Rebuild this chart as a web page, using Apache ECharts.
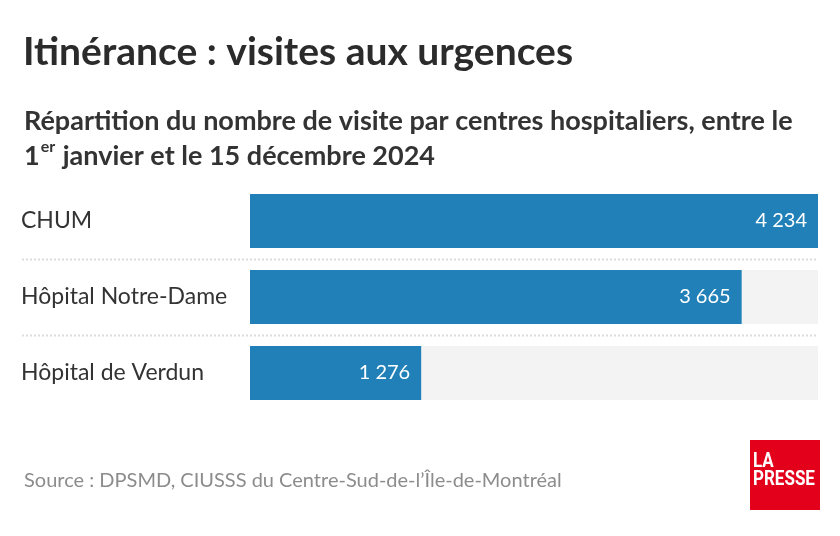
<!DOCTYPE html>
<html>
<head>
<meta charset="utf-8">
<script src="https://cdn.jsdelivr.net/npm/echarts@6/dist/echarts.min.js"></script>
<style>
html,body{margin:0;padding:0;background:#fff;}
#chart{width:840px;height:536px;}
</style>
</head>
<body>
<div id="chart"></div>
<script>
const categories = ['CHUM', 'Hôpital Notre-Dame', 'Hôpital de Verdun'];
const visits = [4234, 3665, 1276];
const titleText = 'Itinérance : visites aux urgences';
const sourceText = 'Source : DPSMD, CIUSSS du Centre-Sud-de-l\u2019Île-de-Montréal';

const FONT = 'Lato';
const chart = echarts.init(document.getElementById('chart'));

function fmt(v) {
  return String(v).replace(/\B(?=(\d{3})+(?!\d))/g, '\u00a0');
}

chart.setOption({
  animation: false,
  backgroundColor: '#ffffff',
  title: [
    {
      text: titleText,
      left: 18, top: 28,
      textStyle: { fontFamily: FONT, fontWeight: 'bold', fontSize: 39, color: '#2b2b2b' }
    },
    {
      text: 'Répartition du nombre de visite par centres hospitaliers, entre le\n1{sup|er} janvier et le 15 décembre 2024',
      left: 19, top: 99,
      textStyle: {
        fontFamily: FONT, fontWeight: 'bold', fontSize: 27, color: '#333333', lineHeight: 35,
        rich: {
          sup: { fontFamily: FONT, fontWeight: 'bold', fontSize: 16, color: '#333333', verticalAlign: 'top', padding: [0, 1, 8, 1] }
        }
      }
    },
    {
      text: sourceText,
      left: 19, top: 466,
      textStyle: { fontFamily: FONT, fontWeight: 'normal', fontSize: 20, color: '#8c8c8c' }
    }
  ],
  grid: { left: 250, right: 22, top: 183, bottom: 125, containLabel: false },
  xAxis: {
    type: 'value', min: 0, max: 4234, show: false
  },
  yAxis: {
    type: 'category', data: categories, inverse: true,
    axisLine: { show: false }, axisTick: { show: false }, splitLine: { show: false },
    axisLabel: {
      align: 'left', margin: 229,
      fontFamily: FONT, fontSize: 23, color: '#333333'
    }
  },
  series: [{
    type: 'bar',
    data: visits,
    barWidth: 54,
    itemStyle: { color: '#2180b8' },
    showBackground: true,
    backgroundStyle: { color: '#f3f3f3' },
    label: {
      show: true, position: 'insideRight', distance: 11,
      formatter: p => fmt(p.value),
      fontFamily: FONT, fontSize: 20, color: '#ffffff'
    }
  }],
  graphic: [
    {
      type: 'group', left: 750, top: 440,
      children: [
        { type: 'rect', shape: { x: 0, y: 0, width: 70, height: 70 }, style: { fill: '#e2001a' } },
        { type: 'text', x: 3, y: 12, scaleY: 1.15, style: { text: 'LA', fill: '#ffffff', font: 'bold 17px Roboto', textVerticalAlign: 'top' } },
        { type: 'text', x: 3, y: 30, scaleY: 1.15, style: { text: 'PRESSE', fill: '#ffffff', font: 'bold 17px Roboto', textVerticalAlign: 'top' } }
      ]
    }
  ]
});

// dotted separators between rows
const seps = [];
for (let i = 0; i < categories.length - 1; i++) {
  const a = chart.convertToPixel({ gridIndex: 0 }, [0, categories[i]])[1];
  const b = chart.convertToPixel({ gridIndex: 0 }, [0, categories[i + 1]])[1];
  const y = Math.round((a + b) / 2) + 0.5;
  seps.push({
    type: 'line', silent: true,
    shape: { x1: 22, y1: y, x2: 818, y2: y },
    style: { stroke: '#dcdcdc', lineWidth: 2, lineDash: [2, 2] }
  });
}
chart.setOption({ graphic: chart.getOption().graphic[0].elements.concat(seps) });
</script>
</body>
</html>
